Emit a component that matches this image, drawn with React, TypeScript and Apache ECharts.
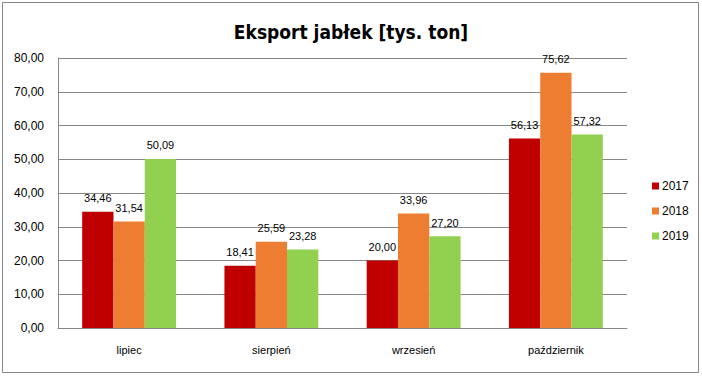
import React, { useEffect, useRef } from "react";
import * as echarts from "echarts";

const categories = ["lipiec", "sierpień", "wrzesień", "październik"];
const seriesNames = ["2017", "2018", "2019"];
const values2017 = [34.46, 18.41, 20.0, 56.13];
const values2018 = [31.54, 25.59, 33.96, 75.62];
const values2019 = [50.09, 23.28, 27.2, 57.32];
const colors = ["#C00000", "#ED7D31", "#92D050"];

const FONT = "'Liberation Sans', 'DejaVu Sans', sans-serif";
const fmt = (v: number) => v.toFixed(2).replace(".", ",");

export default function App() {
  const ref = useRef<HTMLDivElement>(null);
  useEffect(() => {
    const chart = echarts.init(ref.current!, null, { renderer: "svg" });
    const data = [values2017, values2018, values2019];
    chart.setOption({
      animation: false,
      backgroundColor: "#fff",
      title: {
        text: "Eksport jabłek [tys. ton]",
        left: "center",
        top: 17,
        textStyle: {
          fontFamily: "'DejaVu Sans Condensed', 'Liberation Sans Narrow', sans-serif",
          fontWeight: "bold",
          fontSize: 19,
          color: "#000",
        },
      },
      graphic: [
        {
          type: "rect",
          shape: { x: 2.5, y: 2.5, width: 696, height: 370 },
          style: { fill: "none", stroke: "#878787", lineWidth: 1 },
          silent: true,
        },
      ],
      legend: {
        orient: "vertical",
        left: 647,
        top: 175,
        itemWidth: 7,
        itemHeight: 7,
        itemGap: 13,
        icon: "rect",
        textStyle: { fontFamily: FONT, fontSize: 12, color: "#000", padding: [0, 0, 0, -2] },
        data: seriesNames,
      },
      grid: { left: 58, right: 75, top: 58, bottom: 48, containLabel: false },
      xAxis: {
        type: "category",
        data: categories,
        axisLine: { lineStyle: { color: "#878787" } },
        axisTick: { show: false },
        axisLabel: { fontFamily: FONT, fontSize: 11, color: "#000", margin: 16 },
      },
      yAxis: {
        type: "value",
        min: 0,
        max: 80,
        interval: 10,
        axisLine: { show: true, lineStyle: { color: "#878787" } },
        axisTick: { show: false },
        splitLine: { lineStyle: { color: "#878787" } },
        axisLabel: {
          fontFamily: FONT,
          fontSize: 12,
          color: "#000",
          margin: 14,
          formatter: (v: number) => fmt(v),
        },
      },
      series: seriesNames.map((name, i) => ({
        name,
        type: "bar",
        data: data[i],
        itemStyle: { color: colors[i] },
        barGap: "0%",
        barCategoryGap: "34%",
        label: {
          show: true,
          position: "top",
          distance: 8,
          fontFamily: FONT,
          fontSize: 11,
          color: "#000",
          formatter: (p: any) => fmt(p.value),
        },
      })),
    });
    return () => chart.dispose();
  }, []);
  return (
    <div
      ref={ref}
      style={{ position: "absolute", left: 0, top: 0, width: 702, height: 376 }}
    />
  );
}
